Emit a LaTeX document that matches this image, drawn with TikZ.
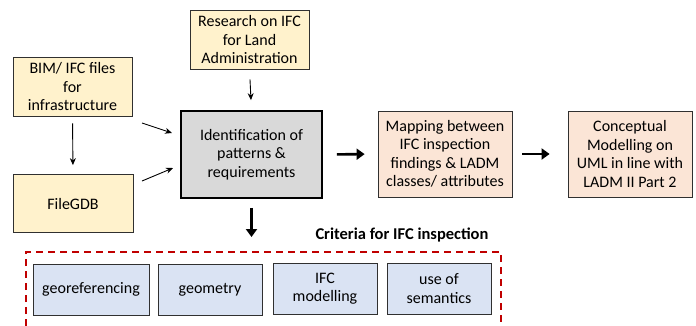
\documentclass[tikz,border=0pt]{standalone}
\usepackage{fontspec}
\setmainfont{Carlito}
\usepackage{xcolor}
\usetikzlibrary{arrows.meta,positioning,calc}
\definecolor{srcyellow}{HTML}{FFF2CC}
\definecolor{outpeach}{HTML}{FBE5D6}
\definecolor{critblue}{HTML}{DAE3F3}
\definecolor{idgray}{HTML}{D9D9D9}
\definecolor{critred}{HTML}{C00000}
\definecolor{boxline}{HTML}{303030}

\begin{document}
\begin{tikzpicture}[x=1pt,y=-1pt,
  box/.style={draw=boxline,line width=0.8pt,align=center,inner sep=2pt,font=\fontsize{16}{18.5}\selectfont},
  srcbox/.style={box,fill=srcyellow},
  outbox/.style={box,fill=outpeach,minimum height=86pt},
  critbox/.style={box,fill=critblue,minimum width=104pt,minimum height=51pt},
  arr/.style={-{Stealth[length=7pt,width=6pt]},line width=0.9pt},
  thickarr/.style={-{Triangle[length=8pt,width=11pt]},line width=2.6pt}
]
\useasboundingbox (0,0) rectangle (696,325);

% inputs
\node[srcbox,minimum width=119pt,minimum height=59pt] (research) at (249.5,39.5) {Research on IFC\\for Land\\Administration};
\node[srcbox,minimum width=119pt,minimum height=59pt] (bim) at (72.5,86.5) {BIM/ IFC files\\for\\infrastructure};
\node[srcbox,minimum width=120pt,minimum height=58pt] (filegdb) at (73,203.5) {FileGDB};

% main steps
\node[box,fill=idgray,line width=1.8pt,draw=black,minimum width=141pt,minimum height=87pt] (ident) at (251.5,154.5) {Identification of\\patterns \&\\requirements};
\node[outbox,minimum width=134pt] (mapping) at (445,154) {Mapping between\\IFC inspection\\findings \& LADM\\classes/ attributes};
\node[outbox,minimum width=124pt] (concept) at (630,154) {Conceptual\\Modelling on\\UML in line with\\LADM II Part 2};

% criteria
\node[font=\fontsize{16.5}{19}\selectfont\bfseries,anchor=east] (critlabel) at (492,235) {Criteria for IFC inspection};
\node[critbox,minimum width=116pt] (georef) at (91,289.5) {georeferencing};
\node[critbox] (geom) at (210,289.5) {geometry};
\node[critbox] (ifcmod) at (325,288.5) {IFC\\modelling};
\node[critbox] (sem) at (439,288.5) {use of\\semantics};
\coordinate (crittop) at (251.5,252);
\draw[critred,line width=1.8pt,dash pattern=on 7pt off 5pt] (26,326) -- (26,252) -- (501,252) -- (501,326);

% connectors
\coordinate (bimout) at (142,123);
\coordinate (bimin) at (172,133);
\coordinate (gdbout) at (142,181);
\coordinate (gdbin) at (173,168);
\draw[arr,shorten <=10pt,shorten >=10pt] (research.south) -- (ident.north);
\draw[arr,shorten <=7pt,shorten >=9pt] (bim.south) -- (filegdb.north);
\draw[arr] (bimout) -- (bimin);
\draw[arr] (gdbout) -- (gdbin);
\draw[thickarr,shorten <=14pt,shorten >=13pt] (ident.east) -- (mapping.west);
\draw[thickarr,shorten <=10pt,shorten >=18pt] (mapping.east) -- (concept.west);
\draw[thickarr,shorten <=9pt,shorten >=15pt] (ident.south) -- (crittop);
\end{tikzpicture}
\end{document}
